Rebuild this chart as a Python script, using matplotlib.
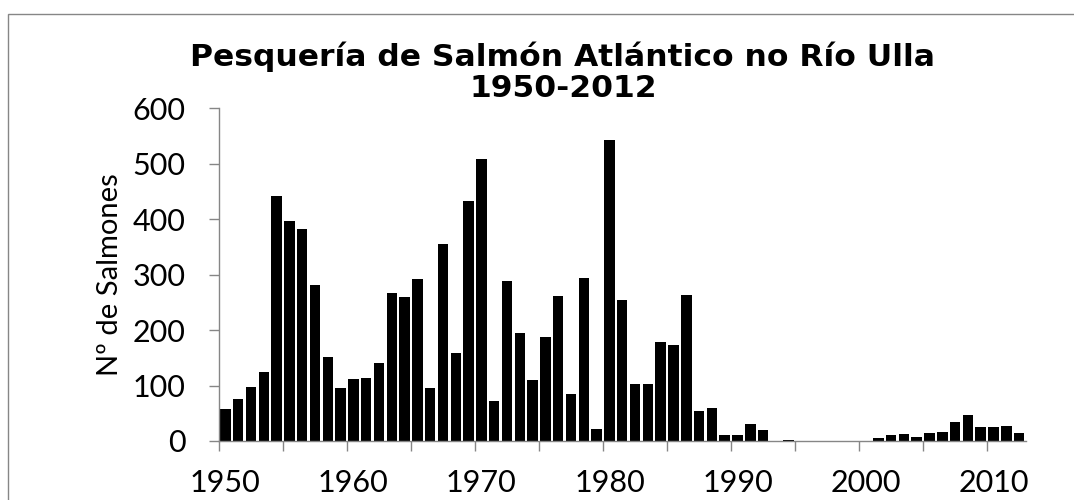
import numpy as np
import matplotlib
matplotlib.use("Agg")
import matplotlib.pyplot as plt
from matplotlib.patches import Rectangle

# catch per year, 1950-2012
years = list(range(1950, 2013))
salmon = [
    57, 76, 97, 125, 441, 397, 383, 282, 151, 96,      # 1950-59
    112, 113, 140, 267, 259, 292, 95, 355, 158, 433,   # 1960-69
    509, 72, 288, 195, 110, 187, 261, 85, 294, 21,     # 1970-79
    542, 254, 102, 102, 178, 173, 263, 54, 60, 11,     # 1980-89
    11, 30, 20, 0, 1, 0, 0, 0, 0, 0,                   # 1990-99
    0, 6, 11, 13, 8, 15, 17, 35, 46, 26,               # 2000-09
    26, 27, 14,                                        # 2010-12
]
label_years = [1950, 1960, 1970, 1980, 1990, 2000, 2010]
y_ticks = [0, 100, 200, 300, 400, 500, 600]

GREY = "#868686"
W, H = 1074, 500

fig = plt.figure(figsize=(W / 100, H / 100), dpi=100)
ax = fig.add_axes([219 / W, 1 - 441 / H, 806.5 / W, (441 - 108.3) / H])

ax.bar(years, salmon, width=0.82, color="black", edgecolor="none")

ax.set_xlim(years[0] - 0.5, years[-1] + 0.5)
ax.set_ylim(0, 600)

# tick marks between categories every 5 years, labels every 10 years
ax.set_xticks(np.arange(years[0] - 0.5, years[-1], 5))
ax.set_xticklabels([])
ax.set_xticks(label_years, minor=True)
ax.set_xticklabels([str(y) for y in label_years], minor=True)
ax.tick_params(axis="x", which="major", direction="out", length=7.2, width=1, color=GREY)
ax.tick_params(axis="x", which="minor", length=0, pad=20, labelsize=22)

ax.set_yticks(y_ticks)
ax.tick_params(axis="y", direction="out", length=7.2, width=1, color=GREY, pad=17, labelsize=22)

for lab in ax.get_xticklabels(minor=True) + ax.get_yticklabels():
    lab.set_fontfamily("Lato")

for side in ("top", "right"):
    ax.spines[side].set_visible(False)
for side in ("left", "bottom"):
    ax.spines[side].set_color(GREY)
    ax.spines[side].set_linewidth(1)

ax.set_ylabel("Nº de Salmones", fontsize=21, family="Lato")
ax.yaxis.set_label_coords(-0.119, 0.5)

# title, two lines
fig.text(563 / W, 1 - 66 / H, "Pesquería de Salmón Atlántico no Río Ulla",
         ha="center", va="baseline", fontsize=22.6, fontweight="bold", family="DejaVu Sans")
fig.text(563 / W, 1 - 96.7 / H, "1950-2012",
         ha="center", va="baseline", fontsize=22.6, fontweight="bold", family="DejaVu Sans")

# chart area border
fig.patches.append(Rectangle((8 / W, -0.1), 1.2, 1 - 14 / H + 0.1, transform=fig.transFigure,
                             fill=False, edgecolor=GREY, linewidth=1))

fig.savefig("out.png", dpi=100)
